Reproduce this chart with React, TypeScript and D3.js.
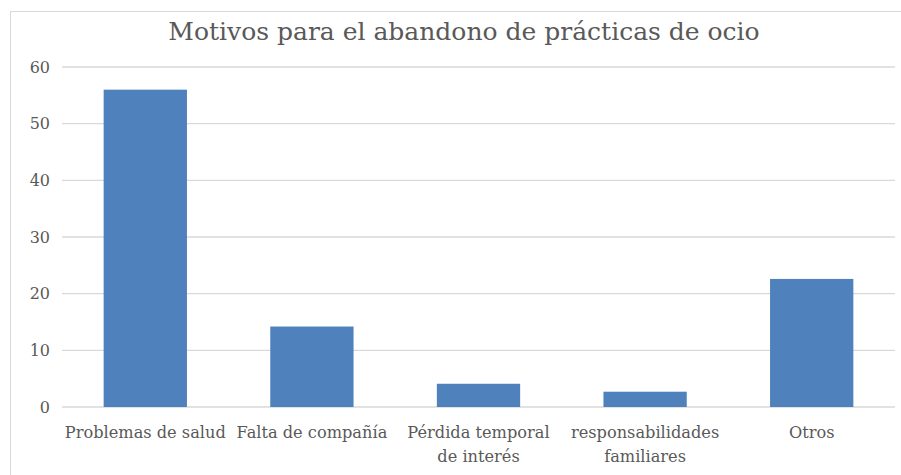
import React from "react";
import * as d3 from "d3";

const categories = [
  ["Problemas de salud"],
  ["Falta de compañía"],
  ["Pérdida temporal", "de interés"],
  ["responsabilidades", "familiares"],
  ["Otros"],
];
const values = [56, 14.2, 4.1, 2.7, 22.6];
const yTicks = [0, 10, 20, 30, 40, 50, 60];

const width = 901;
const height = 475;
const margin = { top: 67, right: 6, bottom: 68, left: 62 };
const fontFamily = "'DejaVu Serif', serif";

const App = () => {
  const innerW = width - margin.left - margin.right;
  const x = d3
    .scaleBand()
    .domain(categories.map((_, i) => String(i)))
    .range([margin.left, margin.left + innerW])
    .paddingInner(0.5)
    .paddingOuter(0.25);
  const y = d3
    .scaleLinear()
    .domain([0, 60])
    .range([height - margin.bottom, margin.top]);

  return (
    <svg
      width={width}
      height={height}
      style={{ position: "absolute", left: 0, top: 0, background: "#fff" }}
    >
      <rect x={10.5} y={11.5} width={1000} height={600} fill="#fff" stroke="#d9d9d9" />
      <text
        x={464}
        y={40}
        textAnchor="middle"
        fontFamily={fontFamily}
        fontSize={25}
        fill="#595959"
      >
        Motivos para el abandono de prácticas de ocio
      </text>
      {yTicks.map((t) => (
        <g key={t}>
          <line
            x1={margin.left}
            x2={margin.left + innerW}
            y1={y(t)}
            y2={y(t)}
            stroke="#d9d9d9"
            strokeWidth={1.3}
          />
          <text
            x={50}
            y={y(t)}
            dy="0.35em"
            textAnchor="end"
            fontFamily={fontFamily}
            fontSize={16}
            fill="#595959"
          >
            {t}
          </text>
        </g>
      ))}
      {values.map((v, i) => (
        <rect
          key={i}
          x={x(String(i))}
          y={y(v)}
          width={x.bandwidth()}
          height={y(0) - y(v)}
          fill="#4f81bd"
        />
      ))}
      {categories.map((lines, i) => (
        <text
          key={i}
          x={(x(String(i)) ?? 0) + x.bandwidth() / 2}
          y={438}
          textAnchor="middle"
          fontFamily={fontFamily}
          fontSize={16.2}
          fill="#595959"
        >
          {lines.map((l, j) => (
            <tspan key={j} x={(x(String(i)) ?? 0) + x.bandwidth() / 2} dy={j === 0 ? 0 : 24}>
              {l}
            </tspan>
          ))}
        </text>
      ))}
    </svg>
  );
};

export default App;
